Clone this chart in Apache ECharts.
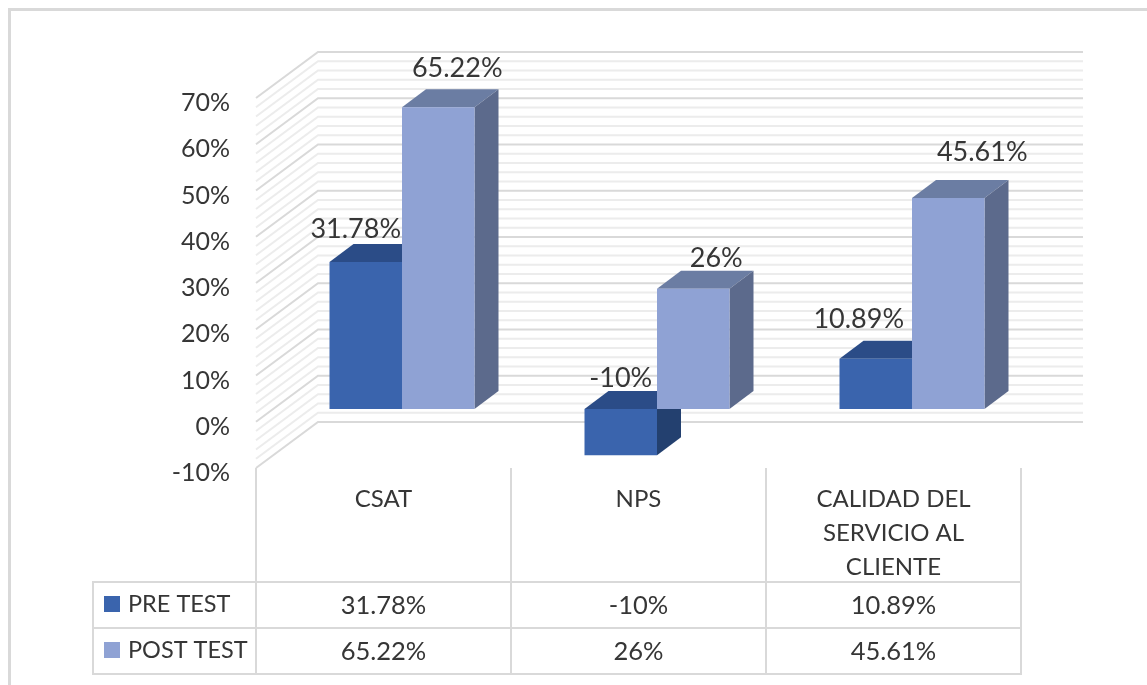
<!DOCTYPE html>
<html>
<head>
<meta charset="utf-8">
<style>
  html, body { margin: 0; padding: 0; background: #fff; }
  #chart { width: 1147px; height: 685px; }
</style>
<script src="https://cdn.jsdelivr.net/npm/echarts@6/dist/echarts.min.js"></script>
</head>
<body>
<div id="chart"></div>
<script>
var categories = ['CSAT', 'NPS', 'CALIDAD DEL\nSERVICIO AL\nCLIENTE']
var preTest = [31.78, -10, 10.89]
var postTest = [65.22, 26, 45.61]
var preLabels = ['31.78%', '-10%', '10.89%']
var postLabels = ['65.22%', '26%', '45.61%']
var majorTicks = [-10, 0, 10, 20, 30, 40, 50, 60, 70]
var minorTicks = [-8, -6, -4, -2, 2, 4, 6, 8, 12, 14, 16, 18, 22, 24, 26, 28, 32, 34, 36, 38, 42, 44, 46, 48, 52, 54, 56, 58, 62, 64, 66, 68]

// hand placed label offsets from the bar's top front centre, like the original
var preLabelOffset = [[-10, -33], [0, -31], [-17, -39]]
var postLabelOffset = [[19, -39], [23, -30], [34, -46]]

var FONT = 'Lato'
var TEXT = '#363636'
var BAR_W = 72.5
var DEPTH_X = 24
var DEPTH_Y = 18
var WALL_X = 62
var WALL_Y = 46

var chart = echarts.init(document.getElementById('chart'))

function wallLine(color, width) {
  return function (params, api) {
    var y = api.coord([0, api.value(0)])[1]
    var g = params.coordSys
    return {
      type: 'polyline',
      silent: true,
      shape: { points: [[g.x, y], [g.x + WALL_X, y - WALL_Y], [g.x + g.width + WALL_X, y - WALL_Y]] },
      style: { fill: null, stroke: color, lineWidth: width }
    }
  }
}

function bar3d(colors, side, labels, offsets) {
  return function (params, api) {
    var i = api.value(0)
    var top = api.coord([i, api.value(1)])
    var base = api.coord([i, 0])
    var left = top[0] + 18.5 + (side === 0 ? -BAR_W : 0)
    var right = left + BAR_W
    // bars stand on a plane in front of the back wall
    var y1 = Math.min(top[1], base[1]) - 12.75
    var y2 = Math.max(top[1], base[1]) - 12.75
    var off = offsets[params.dataIndex]
    return {
      type: 'group',
      children: [
        { type: 'polygon', shape: { points: [[left, y1], [right, y1], [right + DEPTH_X, y1 - DEPTH_Y], [left + DEPTH_X, y1 - DEPTH_Y]] }, style: { fill: colors.top } },
        { type: 'polygon', shape: { points: [[right, y1], [right + DEPTH_X, y1 - DEPTH_Y], [right + DEPTH_X, y2 - DEPTH_Y], [right, y2]] }, style: { fill: colors.side } },
        { type: 'rect', shape: { x: left, y: y1, width: BAR_W, height: y2 - y1 }, style: { fill: colors.front } },
        {
          type: 'text',
          style: {
            x: (left + right) / 2 + off[0],
            y: y1 + off[1],
            text: labels[params.dataIndex],
            font: '27px ' + FONT,
            fill: TEXT,
            align: 'center',
            verticalAlign: 'middle'
          }
        }
      ]
    }
  }
}

chart.setOption({
  animation: false,
  backgroundColor: '#fff',
  textStyle: { fontFamily: FONT },
  grid: { left: 256, top: 98, width: 765, height: 370 },
  legend: {
    left: 104,
    top: 592,
    padding: 0,
    orient: 'vertical',
    selectedMode: false,
    data: ['PRE TEST', 'POST TEST'],
    icon: 'rect',
    itemWidth: 16,
    itemHeight: 16,
    itemGap: 22,
    textStyle: { fontFamily: FONT, fontSize: 23.5, color: TEXT, padding: [0, 0, 0, 3] }
  },
  xAxis: {
    type: 'category',
    data: categories,
    position: 'bottom',
    axisLine: { show: false },
    axisTick: { show: false },
    axisLabel: {
      fontFamily: FONT,
      fontSize: 24,
      color: TEXT,
      lineHeight: 34,
      margin: 14,
      interval: 0
    }
  },
  yAxis: {
    type: 'value',
    min: -10,
    max: 70,
    interval: 10,
    axisLine: { show: false },
    axisTick: { show: false },
    splitLine: { show: false },
    axisLabel: {
      fontFamily: FONT,
      fontSize: 25,
      color: TEXT,
      margin: 26,
      verticalAlign: 'top',
      lineHeight: 10,
      formatter: '{value}%'
    }
  },
  series: [
    { type: 'custom', name: 'minor', data: minorTicks, encode: { y: 0 }, renderItem: wallLine('#ececec', 2), silent: true, clip: false },
    { type: 'custom', name: 'major', data: majorTicks, encode: { y: 0 }, renderItem: wallLine('#d9d9d9', 2), silent: true, clip: false },
    {
      type: 'custom',
      name: 'PRE TEST',
      data: preTest.map(function (v, i) { return [i, v] }),
      itemStyle: { color: '#3a64ad' },
      renderItem: bar3d({ front: '#3a64ad', top: '#2b4c87', side: '#23406f' }, 0, preLabels, preLabelOffset),
      clip: false
    },
    {
      type: 'custom',
      name: 'POST TEST',
      data: postTest.map(function (v, i) { return [i, v] }),
      itemStyle: { color: '#8fa2d4' },
      renderItem: bar3d({ front: '#8fa2d4', top: '#6b7da3', side: '#5c6a8c' }, 1, postLabels, postLabelOffset),
      clip: false
    }
  ]
})

// data table under the plot
var line = function (x1, y1, x2, y2) {
  return { type: 'line', silent: true, shape: { x1: x1, y1: y1, x2: x2, y2: y2 }, style: { stroke: '#d9d9d9', lineWidth: 2 } }
}
var cellText = function (x, y, text) {
  return { type: 'text', silent: true, style: { x: x, y: y, text: text, font: '25.5px ' + FONT, fill: TEXT, align: 'center', verticalAlign: 'middle' } }
}
var items = [
  // outer frame of the page
  { type: 'line', silent: true, shape: { x1: 10, y1: 9.5, x2: 1147, y2: 9.5 }, style: { stroke: '#d9d9d9', lineWidth: 3 } },
  { type: 'line', silent: true, shape: { x1: 9.5, y1: 8, x2: 9.5, y2: 685 }, style: { stroke: '#d9d9d9', lineWidth: 3 } },
  line(256, 468, 256, 583), line(511, 468, 511, 674), line(766, 468, 766, 674), line(1021, 468, 1021, 674),
  line(93, 582, 1022, 582), line(93, 628, 1022, 628), line(93, 674, 1022, 674),
  line(93, 581, 93, 675), line(256, 582, 256, 674)
]
categories.forEach(function (c, i) {
  var x = chart.convertToPixel({ xAxisIndex: 0 }, i)
  items.push(cellText(x, 606, preLabels[i]))
  items.push(cellText(x, 652, postLabels[i]))
})
chart.setOption({ graphic: { elements: items } })
</script>
</body>
</html>
